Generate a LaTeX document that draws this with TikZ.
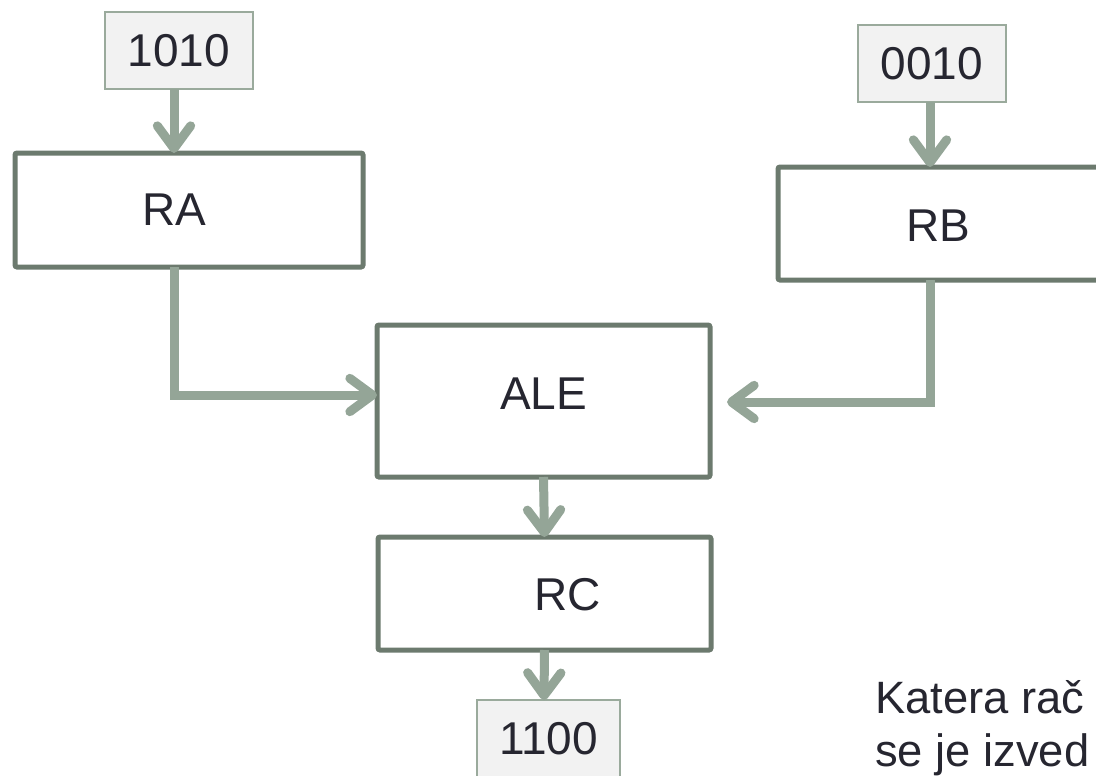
\documentclass[tikz,border=0pt]{standalone}
\usepackage{fontspec}
\setmainfont{Liberation Sans}
\usetikzlibrary{arrows.meta,calc}

\definecolor{boxline}{HTML}{6C7A6E}
\definecolor{arrowc}{HTML}{94A597}
\definecolor{valfill}{HTML}{F2F2F2}
\definecolor{valline}{HTML}{9AAA9C}
\definecolor{txt}{HTML}{262630}

\tikzset{
  regbox/.style={draw=boxline, line width=3.75pt, fill=white, inner sep=0pt,
    outer sep=0pt, rounded corners=1.5pt, text=txt, font=\fontsize{34.5}{40}\selectfont},
  regtext/.style={text=txt, font=\fontsize{34.5}{40}\selectfont},
  valbox/.style={draw=valline, line width=1.5pt, fill=valfill, inner sep=0pt,
    outer sep=0pt, text=txt, font=\fontsize{34.5}{40}\selectfont,
    minimum height=57.75pt},
  conn/.style={draw=arrowc, line width=6.75pt,
    -{Straight Barb[length=17pt,width=25pt,round]}},
  caption/.style={text=txt, font=\fontsize{34}{39.75}\selectfont, align=left,
    inner sep=0pt}
}

\begin{document}
\begin{tikzpicture}[x=0.75pt,y=-0.75pt]
  \useasboundingbox (0,0) rectangle (1096,775);
  \clip (0,0) rectangle (1096,775);

  % registers and the arithmetic-logic unit
  \node[regbox, minimum width=261pt, minimum height=85.5pt,
        label={[regtext, xshift=-11.25pt]center:RA}]
        (ra) at (189,210) {};
  \node[regbox, minimum width=261pt, minimum height=84.75pt,
        label={[regtext, xshift=-10.5pt, yshift=-1.5pt]center:RB}]
        (rb) at (952,223.5) {};
  \node[regbox, minimum width=249.75pt, minimum height=114pt,
        label={[regtext, yshift=5.25pt]center:ALE}]
        (ale) at (543.5,401) {};
  \node[regbox, minimum width=249.75pt, minimum height=84.75pt,
        label={[regtext, xshift=17.25pt, yshift=-1pt]center:RC}]
        (rc) at (544.5,593.5) {};

  % binary values
  \node[valbox, minimum width=111pt] (va) at (179,50.5) {1010};
  \node[valbox, minimum width=111pt] (vb) at (932,63.5) {0010};
  \node[valbox, minimum width=107.25pt] (vc) at (548.5,738.5) {1100};

  % data paths
  \draw[conn] ($(va.south)+(-5,0)$) -- ($(ra.north)+(-15,0)$);
  \draw[conn] ($(vb.south)+(-2,0)$) -- ($(rb.north)+(-22,0)$);
  \draw[conn] ($(ra.south)+(-15,0)$) |- ($(ale.west)+(0,-6)$);
  \draw[conn] ($(rb.south)+(-22,0)$) |- ($(ale.east)+(17,1)$);
  \draw[conn] (ale.south) -- (rc.north);
  \draw[conn] (rc.south) -- ($(vc.north)+(-4.5,0)$);

  % question (base anchor sits on the last line)
  \node[caption, anchor=base west] (q) at (875,766) {Katera rač\\se je izved};
\end{tikzpicture}
\end{document}
